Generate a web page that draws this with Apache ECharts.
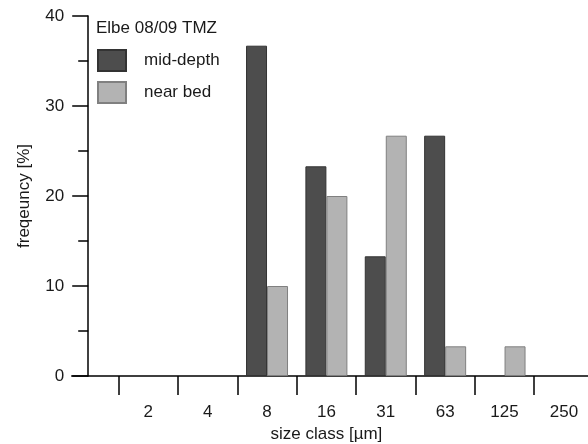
<!DOCTYPE html>
<html><head><meta charset="utf-8">
<script src="https://cdn.jsdelivr.net/npm/echarts@6/dist/echarts.min.js"></script>
<style>html,body{margin:0;padding:0;background:#fff}#c{width:588px;height:444px}</style>
</head><body><div id="c"></div>
<script>
const categories = ['', '2', '4', '8', '16', '31', '63', '125', '250'];
const midDepth = [null, null, null, 36.7, 23.3, 13.3, 26.7, null, null];
const nearBed = [null, null, null, 10, 20, 26.7, 3.3, 3.3, null];
const yTicks = [0, 10, 20, 30, 40];

const chart = echarts.init(document.getElementById('c'), null, {renderer: 'canvas'});
const font = 'Liberation Sans, Arial, sans-serif';
const fs = 17;
chart.setOption({
  animation: false,
  backgroundColor: '#fff',
  grid: {left: 59.2, top: 16, width: 534.4, height: 360, containLabel: false, outerBoundsMode: 'none'},
  xAxis: {
    type: 'category', data: categories, boundaryGap: true,
    name: 'size class [µm]', nameLocation: 'middle', nameGap: 50,
    nameTextStyle: {color: '#1a1a1a', fontSize: fs, fontFamily: font},
    axisLine: {show: true, lineStyle: {color: '#000', width: 1.5}},
    axisTick: {show: true, inside: false, length: 19, lineStyle: {color: '#000', width: 1.5},
      interval: function (i) { return i !== 0; }},
    axisLabel: {color: '#1a1a1a', fontSize: fs, fontFamily: font, margin: 28},
    splitLine: {show: false}
  },
  yAxis: {
    type: 'value', min: 0, max: 40, interval: 10, offset: -29,
    name: 'freqeuncy [%]', nameLocation: 'middle', nameGap: 55,
    nameTextStyle: {color: '#1a1a1a', fontSize: fs, fontFamily: font},
    axisLine: {show: true, lineStyle: {color: '#000', width: 1.5}},
    axisTick: {show: true, length: 16, lineStyle: {color: '#000', width: 1.5}},
    minorTick: {show: true, splitNumber: 2, length: 10, lineStyle: {color: '#000', width: 1.5}},
    axisLabel: {color: '#1a1a1a', fontSize: fs, fontFamily: font, margin: 17,
      backgroundColor: '#fff', padding: [2, 7, 2, 2],
      formatter: function (v) { return yTicks.indexOf(v) >= 0 ? String(v) : ''; }},
    splitLine: {show: false}
  },
  legend: {
    orient: 'vertical', left: 97, top: 49, itemWidth: 28, itemHeight: 21, itemGap: 9,
    icon: 'rect', padding: 0,
    textStyle: {color: '#1a1a1a', fontSize: fs, fontFamily: font, padding: [0, 0, 0, 13]},
    data: ['mid-depth', 'near bed']
  },
  graphic: [{
    type: 'text', left: 96, top: 20,
    style: {text: 'Elbe 08/09 TMZ', fill: '#1a1a1a', font: fs + 'px ' + font}
  }],
  series: [
    {name: 'mid-depth', type: 'bar', data: midDepth, barWidth: 21, barGap: '0%',
      itemStyle: {color: '#4d4d4d', borderColor: '#333', borderWidth: 1}},
    {name: 'near bed', type: 'bar', data: nearBed, barWidth: 21, barGap: '0%',
      itemStyle: {color: '#b3b3b3', borderColor: '#808080', borderWidth: 1}}
  ]
});
</script></body></html>
